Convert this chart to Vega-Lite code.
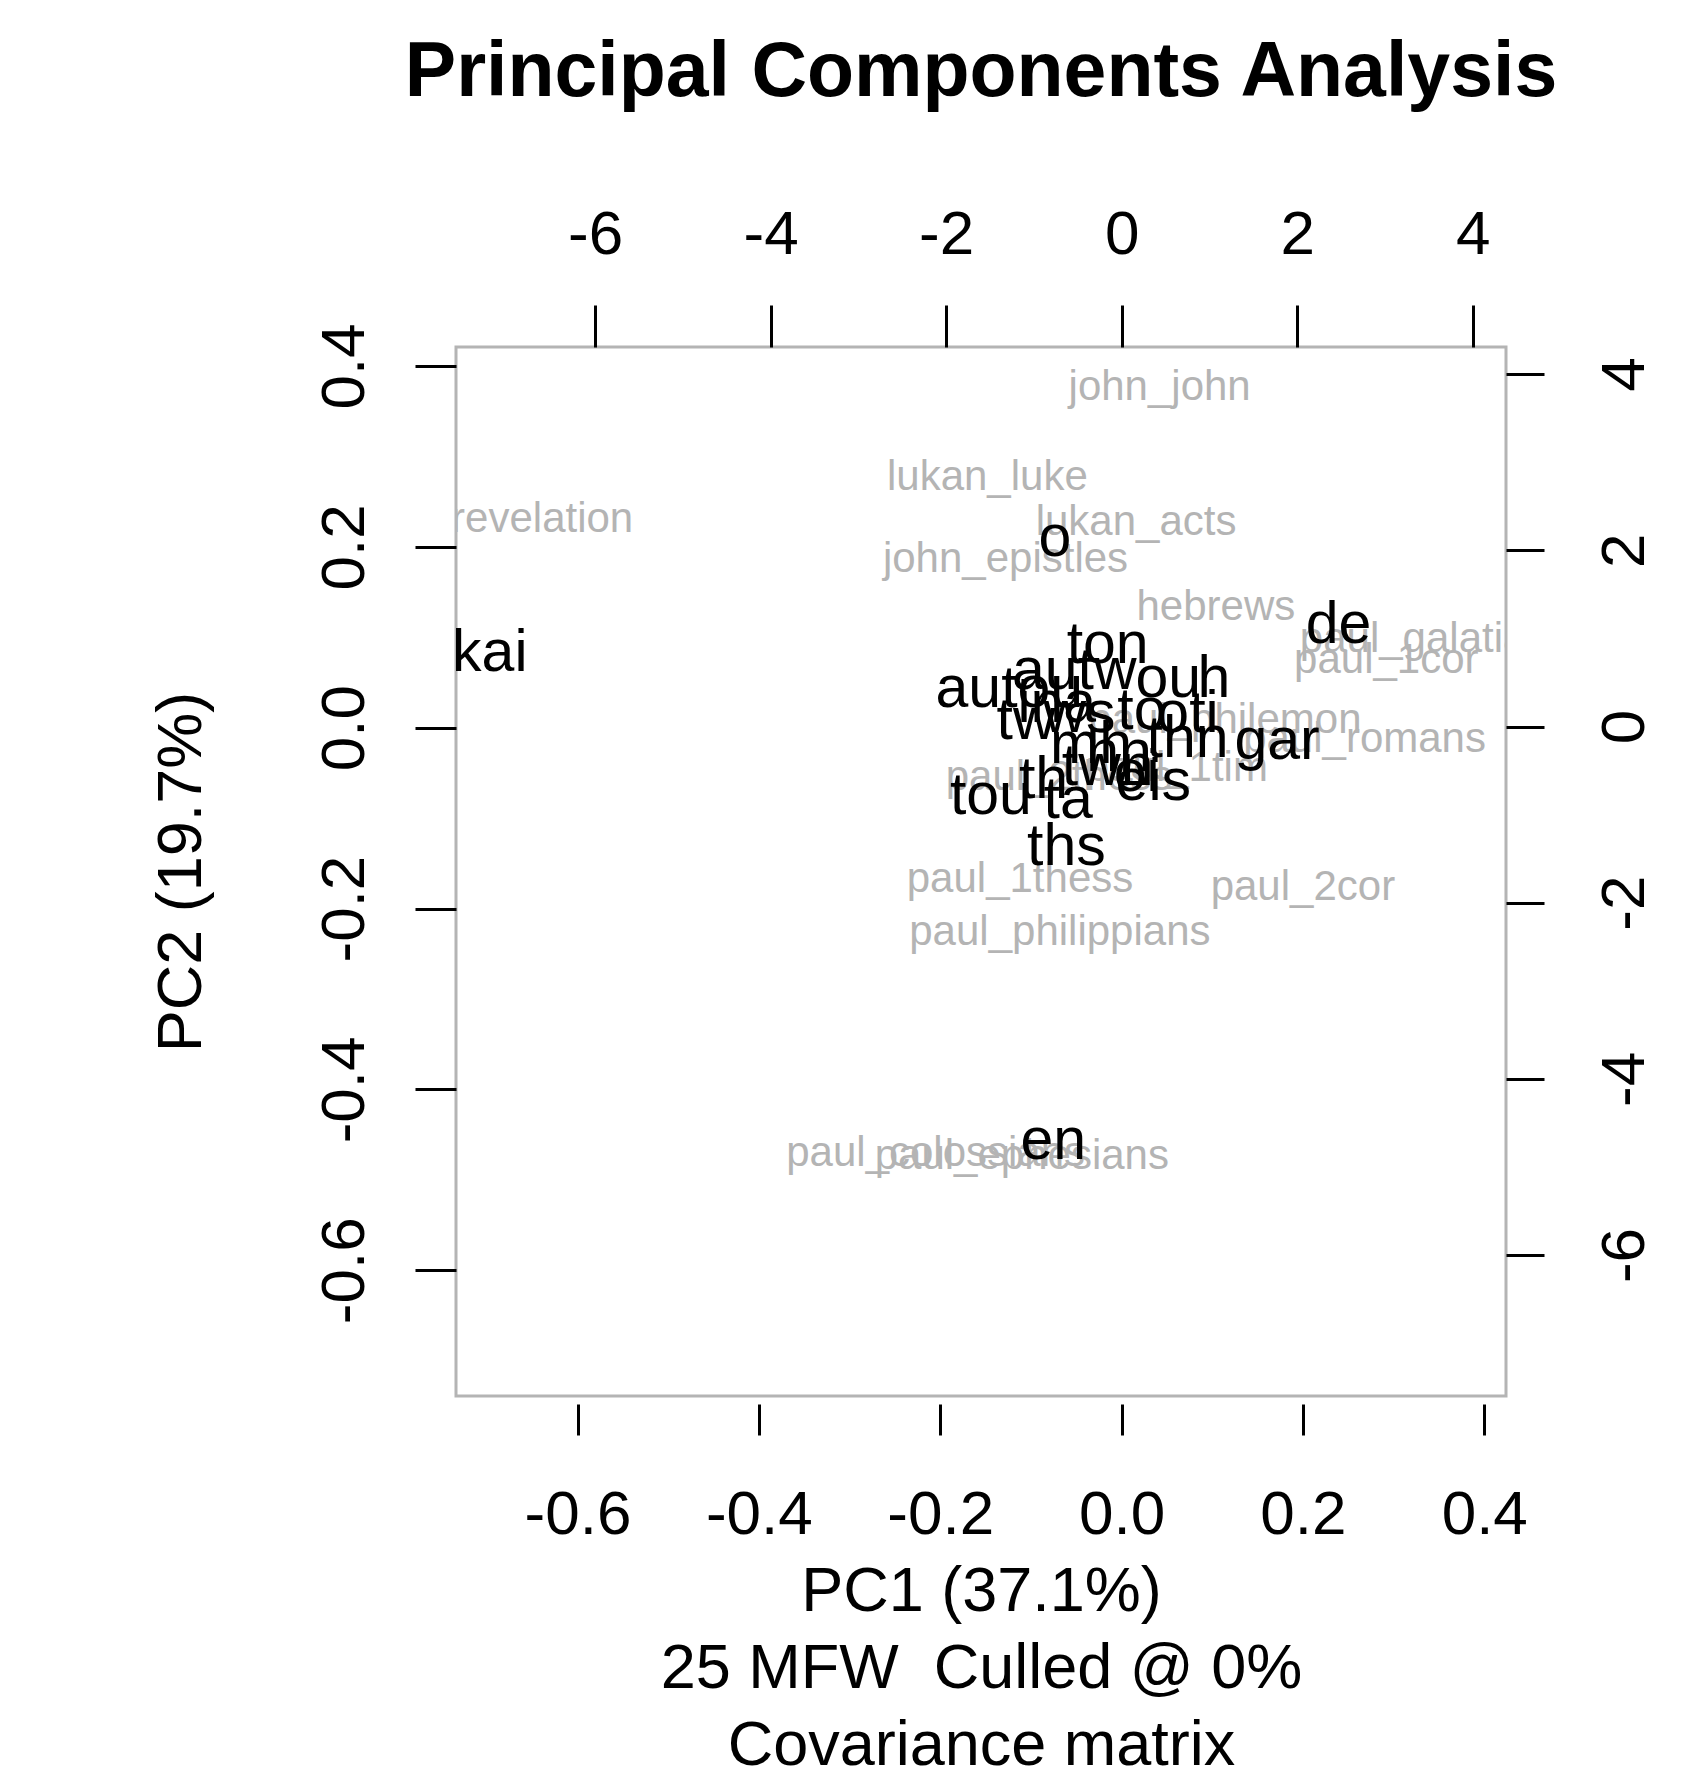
{
  "$schema": "https://vega.github.io/schema/vega-lite/v6.json",
  "width": 1050,
  "height": 1049,
  "autosize": {"type": "none"},
  "padding": {"left": 456, "top": 347, "right": 179, "bottom": 387},
  "background": "white",
  "title": {"text": "Principal Components Analysis", "font": "Liberation Sans", "fontSize": 77, "fontWeight": "bold", "anchor": "middle", "offset": 91, "color": "black"},
  "datasets": {
    "samples": [
      {"label": "john_john", "PC1": 0.042, "PC2": 0.377},
      {"label": "lukan_luke", "PC1": -0.148, "PC2": 0.277},
      {"label": "lukan_acts", "PC1": 0.016, "PC2": 0.228},
      {"label": "revelation", "PC1": -0.639, "PC2": 0.231},
      {"label": "john_epistles", "PC1": -0.128, "PC2": 0.187},
      {"label": "hebrews", "PC1": 0.104, "PC2": 0.133},
      {"label": "paul_galatians", "PC1": 0.346, "PC2": 0.098},
      {"label": "paul_1cor", "PC1": 0.292, "PC2": 0.075},
      {"label": "paul_philemon", "PC1": 0.114, "PC2": 0.008},
      {"label": "paul_romans", "PC1": 0.268, "PC2": -0.013},
      {"label": "paul_1tim", "PC1": 0.061, "PC2": -0.044},
      {"label": "paul_2thess", "PC1": -0.069, "PC2": -0.054},
      {"label": "paul_1thess", "PC1": -0.112, "PC2": -0.167},
      {"label": "paul_2cor", "PC1": 0.200, "PC2": -0.176},
      {"label": "paul_philippians", "PC1": -0.068, "PC2": -0.226},
      {"label": "paul_colossians", "PC1": -0.205, "PC2": -0.470},
      {"label": "paul_ephesians", "PC1": -0.110, "PC2": -0.474}
    ],
    "words": [
      {"word": "kai", "L1": -7.20, "L2": 0.83},
      {"word": "o", "L1": -0.76, "L2": 2.14},
      {"word": "de", "L1": 2.47, "L2": 1.15},
      {"word": "en", "L1": -0.78, "L2": -4.70},
      {"word": "ths", "L1": -0.63, "L2": -1.37},
      {"word": "tou", "L1": -1.49, "L2": -0.79},
      {"word": "ta", "L1": -0.61, "L2": -0.83},
      {"word": "ton", "L1": -0.16, "L2": 0.93},
      {"word": "autou", "L1": -1.28, "L2": 0.43},
      {"word": "autw", "L1": -0.54, "L2": 0.63},
      {"word": "ou", "L1": 0.53, "L2": 0.54},
      {"word": "h", "L1": 1.05, "L2": 0.54},
      {"word": "tw", "L1": -1.09, "L2": 0.06},
      {"word": "ws", "L1": -0.48, "L2": 0.14},
      {"word": "to", "L1": 0.23, "L2": 0.18},
      {"word": "oti", "L1": 0.75, "L2": 0.14},
      {"word": "thn", "L1": 0.75, "L2": -0.14},
      {"word": "gar", "L1": 1.77, "L2": -0.17},
      {"word": "hn", "L1": -0.03, "L2": -0.30},
      {"word": "th", "L1": -0.89, "L2": -0.61},
      {"word": "eis", "L1": 0.36, "L2": -0.63},
      {"word": "twn", "L1": -0.16, "L2": -0.46},
      {"word": "mh", "L1": -0.35, "L2": -0.21},
      {"word": "oi", "L1": 0.17, "L2": -0.53},
      {"word": "ina", "L1": -0.74, "L2": 0.25}
    ]
  },
  "layer": [
    {
      "data": {"name": "samples"},
      "mark": {"type": "text", "clip": true, "font": "Liberation Sans", "fontSize": 42, "color": "#b4b4b4", "baseline": "middle", "align": "center"},
      "encoding": {
        "x": {"field": "PC1", "type": "quantitative", "scale": {"domain": [-0.734, 0.424], "nice": false, "zero": false},
          "axis": {"orient": "bottom", "values": [-0.6, -0.4, -0.2, 0, 0.2, 0.4], "format": ".1f", "labelExpr": "replace(datum.label, '−', '-')", "offset": 8, "tickSize": 31, "labelPadding": 98, "labelBaseline": "alphabetic", "labelAlign": "center",
            "title": ["PC1 (37.1%)", "25 MFW\u00a0\u00a0Culled @ 0%", "Covariance matrix"], "titlePadding": 15, "titleLineHeight": 77, "titleBaseline": "top"}},
        "y": {"field": "PC2", "type": "quantitative", "scale": {"domain": [-0.739, 0.421], "nice": false, "zero": false},
          "axis": {"orient": "left", "values": [-0.6, -0.4, -0.2, 0, 0.2, 0.4], "format": ".1f", "labelExpr": "replace(datum.label, '−', '-')", "tickSize": 41, "labelPadding": 52, "labelAngle": -90, "labelAlign": "center", "labelBaseline": "alphabetic",
            "title": "PC2 (19.7%)", "titlePadding": 100}},
        "text": {"field": "label", "type": "nominal"}
      }
    },
    {
      "data": {"name": "words"},
      "mark": {"type": "text", "clip": true, "font": "Liberation Sans", "fontSize": 59, "color": "black", "baseline": "middle", "align": "center"},
      "encoding": {
        "x": {"field": "L1", "type": "quantitative", "scale": {"domain": [-7.585, 4.379], "nice": false, "zero": false},
          "axis": {"orient": "top", "values": [-6, -4, -2, 0, 2, 4], "labelExpr": "replace(datum.label, '−', '-')", "tickSize": 42, "labelPadding": 52, "labelBaseline": "alphabetic", "labelAlign": "center", "title": null}},
        "y": {"field": "L2", "type": "quantitative", "scale": {"domain": [-7.60, 4.308], "nice": false, "zero": false},
          "axis": {"orient": "right", "values": [-6, -4, -2, 0, 2, 4], "labelExpr": "replace(datum.label, '−', '-')", "tickSize": 38, "labelPadding": 99, "labelAngle": -90, "labelAlign": "center", "labelBaseline": "alphabetic", "title": null}},
        "text": {"field": "word", "type": "nominal"}
      }
    }
  ],
  "resolve": {"scale": {"x": "independent", "y": "independent"}},
  "config": {
    "view": {"stroke": "#b4b4b4", "strokeWidth": 3},
    "axis": {"grid": false, "domain": false, "tickColor": "black", "tickWidth": 3, "labelFont": "Liberation Sans", "labelFontSize": 62, "labelColor": "black", "titleFont": "Liberation Sans", "titleFontSize": 63, "titleFontWeight": "normal", "titleColor": "black", "labelFlush": false, "labelOverlap": false, "labelBound": false}
  }
}
